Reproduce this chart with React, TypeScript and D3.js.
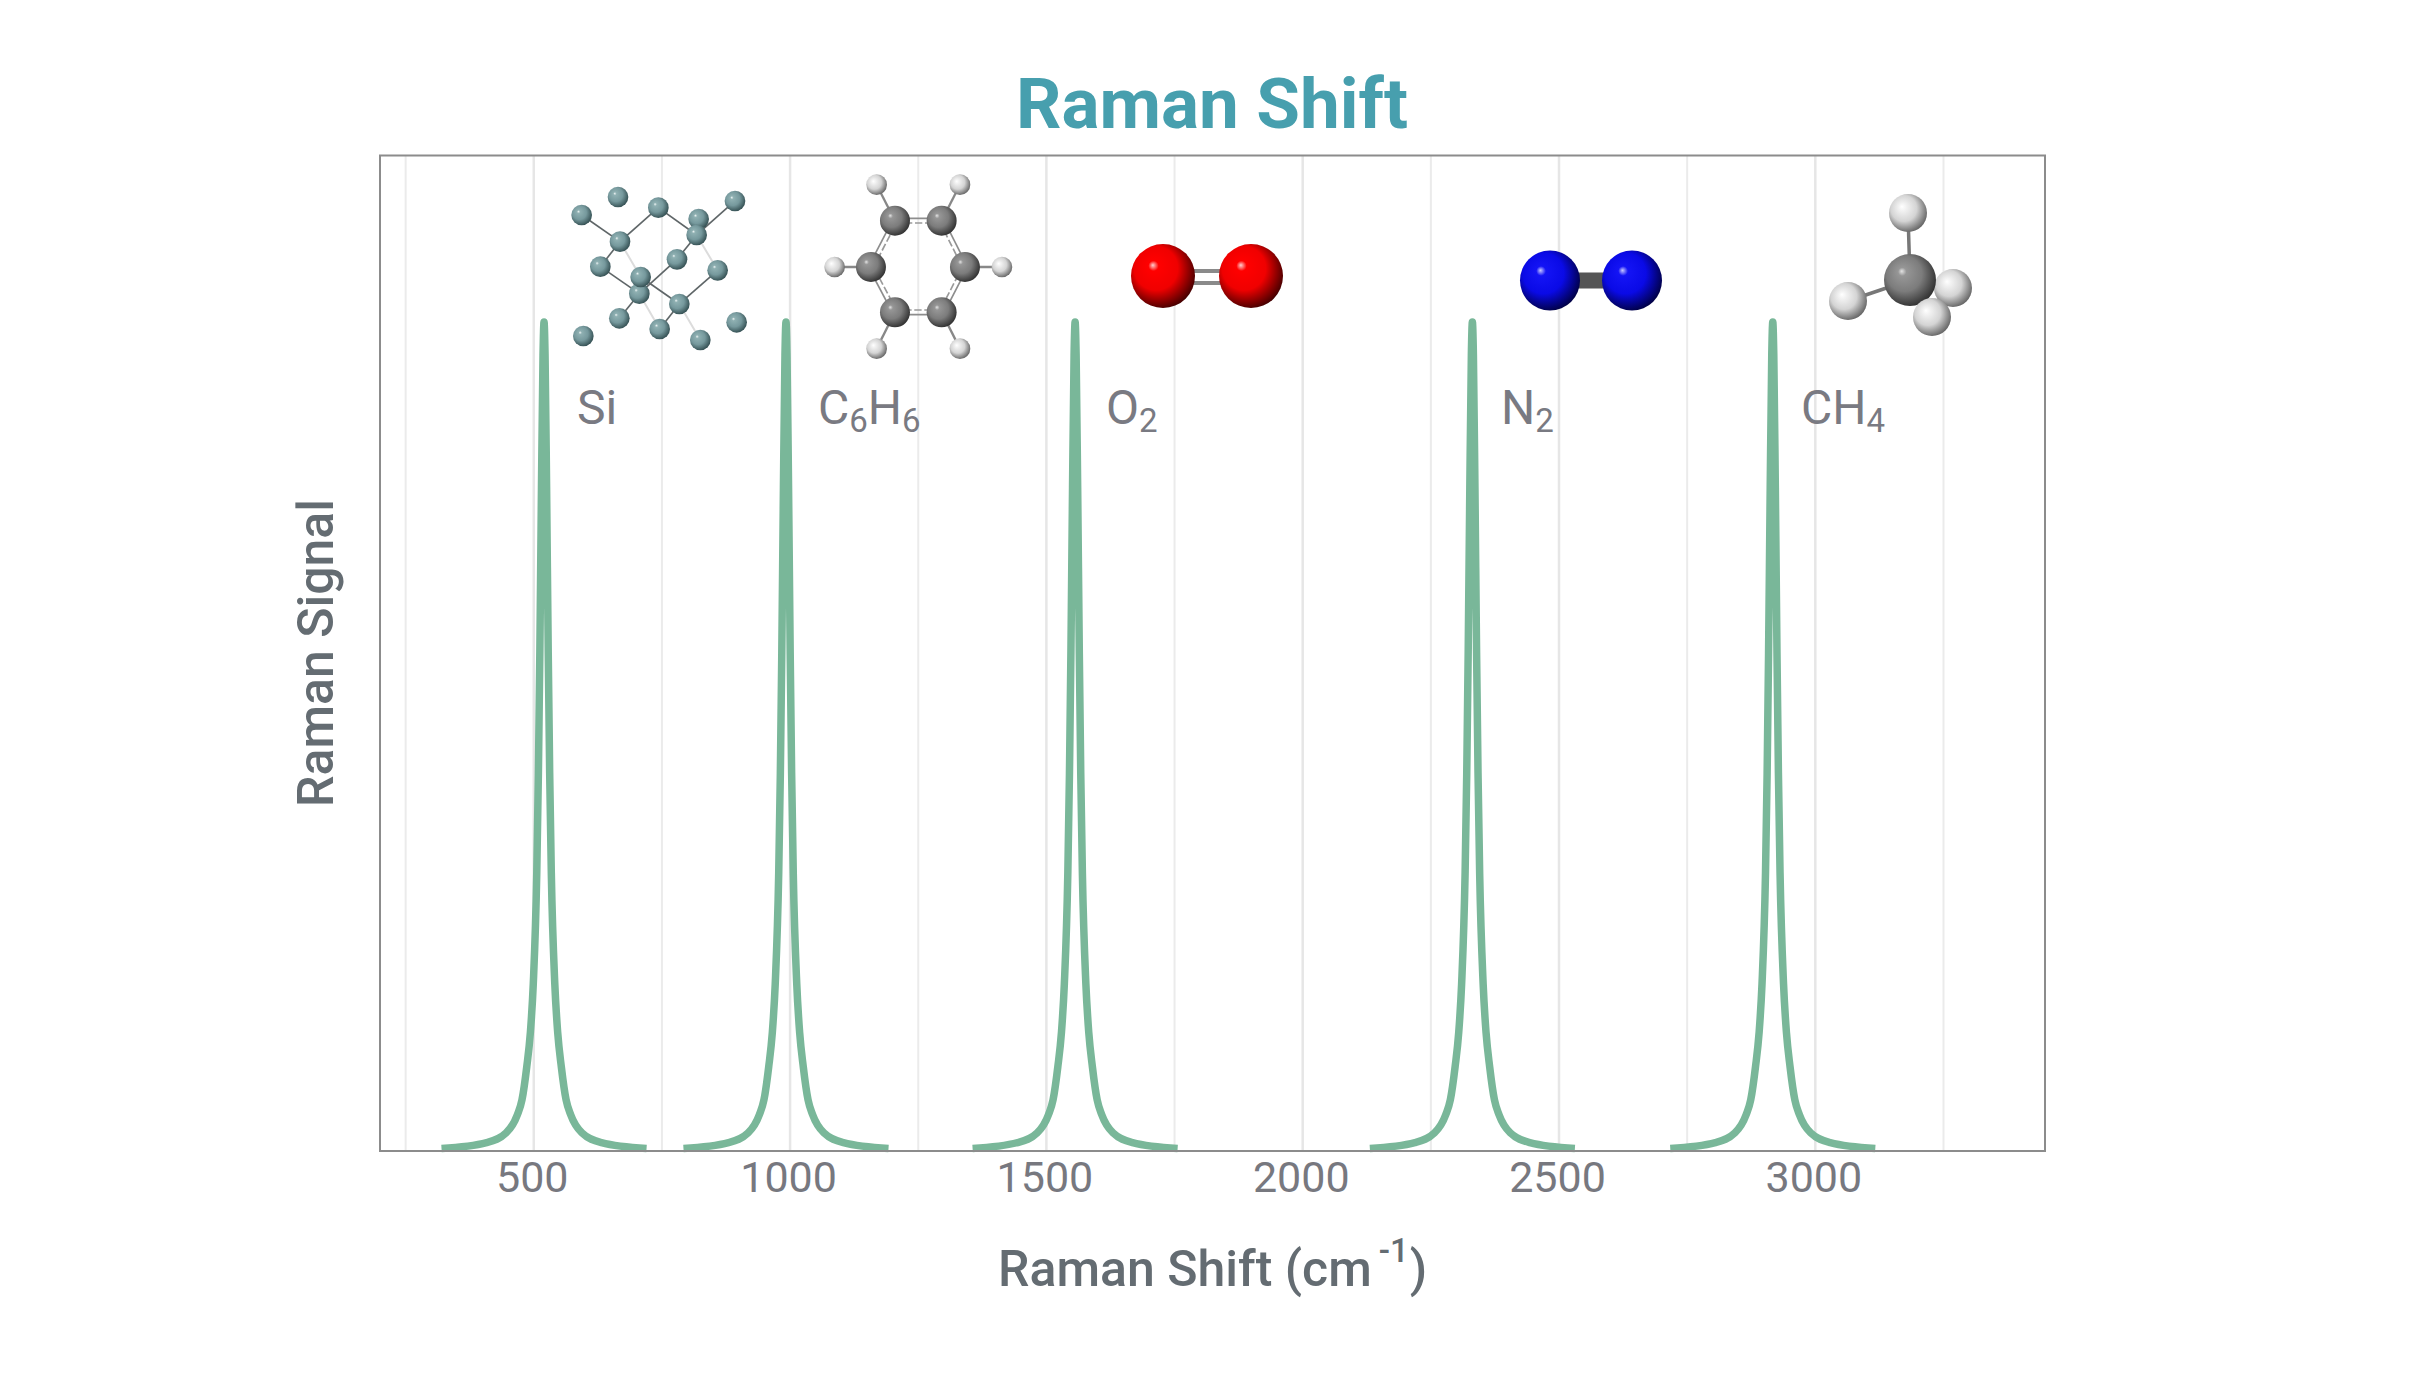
import { axisBottom, curveMonotoneX, line, scaleLinear, select } from "d3";
import { useEffect, useRef } from "react";

const WIDTH = 2412;
const HEIGHT = 1389;

const peakCenters = [520, 992, 1556, 2331, 2917];
const peakOffsets = [-200, -112, -74, -52, -43, -33.7, -26.7, -21, -14.2, -11, -8.2, -5, -2, 0, 2, 5, 8.2, 11, 14.2, 21, 26.7, 33.7, 43, 52, 74, 112, 200];
const peakSignal = [0.0012, 0.0084, 0.02, 0.042, 0.06, 0.1, 0.141, 0.2, 0.334, 0.455, 0.6, 0.8, 0.96, 1, 0.96, 0.8, 0.6, 0.455, 0.334, 0.2, 0.141, 0.1, 0.06, 0.042, 0.02, 0.0084, 0.0012];
const gridValues = [250, 500, 750, 1000, 1250, 1500, 1750, 2000, 2250, 2500, 2750, 3000, 3250];
const tickValues = [500, 1000, 1500, 2000, 2500, 3000];

const peakLabels = [
  { x: 577, parts: ["Si"] },
  { x: 818, parts: ["C", "6", "H", "6"] },
  { x: 1106, parts: ["O", "2"] },
  { x: 1501, parts: ["N", "2"] },
  { x: 1801, parts: ["CH", "4"] },
];

// molecule drawings, in zoomed 3x coords
const siAtoms = [[234,141],[125,195],[355,173],[476,207],[585,153],[240,275],[470,255],[181,350],[411,328],[533,361],[298,431],[302,381],[418,462],[238,505],[359,537],[130,558],[590,517],[481,570]];
const siBonds = [[1,5],[5,2],[2,6],[4,6],[5,7],[7,10],[6,8],[8,10],[11,12],[12,9],[10,13],[12,14]];
const siFaintBonds = [[5,11],[6,9],[10,14],[12,17]];
const benzeneCarbons = [[1065,212],[1205,212],[1275,351],[1205,487],[1065,487],[993,351]];
const benzeneHydrogens = [[1010,104],[1260,104],[1386,351],[1260,596],[1010,596],[884,351]];
const methaneCarbon = [1910, 280];
const methaneHydrogens = [[1908,213],[1848,301],[1953,288],[1932,317]];

const sphereColors: Record<string, string[]> = {
  si: ["#eef5f5", "#8fb0b2", "#76999d", "#2f4a4d"],
  c: ["#e4e4e4", "#969696", "#7c7c7c", "#2c2c2c"],
  h: ["#ffffff", "#f4f4f4", "#d4d4d4", "#5e5e5e"],
  o: ["#ffd0d0", "#ff0000", "#f00000", "#3c0000"],
  n: ["#c8c8ff", "#1414f5", "#0a0ae6", "#00003c"],
};

export default function App() {
  const svgRef = useRef<SVGSVGElement>(null);

  useEffect(() => {
    const svgEl = svgRef.current;
    if (svgEl === null) return;
    const svg = select(svgEl);
    svg.selectAll("*").remove();

    const left = 380, right = 2045, top = 155.5, bottom = 1151;
    const x = scaleLinear().domain([200, 3450]).range([left, 2046]);
    const y = scaleLinear().domain([0, 1]).range([1149.5, 322]);
    const font = "Roboto, sans-serif";

    const defs = svg.append("defs");
    Object.entries(sphereColors).forEach(([key, c]) => {
      const g = defs.append("radialGradient")
        .attr("id", `ball-${key}`)
        .attr("cx", 0.43).attr("cy", 0.42).attr("r", 0.62)
        .attr("fx", 0.34).attr("fy", 0.33);
      g.append("stop").attr("offset", 0).attr("stop-color", c[0]);
      g.append("stop").attr("offset", 0.13).attr("stop-color", c[1]);
      g.append("stop").attr("offset", 0.55).attr("stop-color", c[2]);
      g.append("stop").attr("offset", 1).attr("stop-color", c[3]);
    });

    // grid
    svg.append("g").selectAll("line").data(gridValues).join("line")
      .attr("x1", d => x(d)).attr("x2", d => x(d))
      .attr("y1", top).attr("y2", bottom)
      .attr("stroke", d => d % 500 === 0 ? "#e6e6e6" : "#ebebeb")
      .attr("stroke-width", d => d % 500 === 0 ? 2.5 : 2);

    // peaks
    const pts = peakOffsets.map((o, i) => [o, peakSignal[i]]);
    const peakLine = line<number[]>().curve(curveMonotoneX).x(d => d[0]).y(d => y(d[1]));
    svg.append("g").selectAll("path").data(peakCenters).join("path")
      .attr("d", c => peakLine(pts.map(p => [x(c + p[0]), p[1]])))
      .attr("fill", "none")
      .attr("stroke", "#79b799")
      .attr("stroke-width", 7.5)
      .attr("stroke-linejoin", "round");

    // frame
    svg.append("rect")
      .attr("x", left).attr("y", top)
      .attr("width", right - left).attr("height", bottom - top)
      .attr("fill", "none")
      .attr("stroke", "#8c8c8c")
      .attr("stroke-width", 2);

    // x axis
    const axis = svg.append("g")
      .attr("transform", `translate(-2,${bottom})`)
      .call(axisBottom(x).tickValues(tickValues).tickSize(0).tickPadding(10).tickFormat(d => String(d)));
    axis.select(".domain").remove();
    axis.selectAll("text")
      .attr("dy", null)
      .attr("y", 41)
      .style("font-family", font)
      .style("font-size", "43px")
      .attr("fill", "#77787f");

    svg.append("text")
      .attr("x", 1212).attr("y", 128)
      .attr("text-anchor", "middle")
      .style("font-family", font).style("font-size", "71px").style("font-weight", 700)
      .attr("fill", "#479fae")
      .text("Raman Shift");

    const xTitle = svg.append("text")
      .attr("x", 998).attr("y", 1286)
      .style("font-family", font).style("font-size", "50px").style("font-weight", 500)
      .attr("fill", "#646c72");
    xTitle.append("tspan").text("Raman Shift (cm");
    xTitle.append("tspan").attr("dx", 7).attr("dy", -24).style("font-size", "33px").text("-1");
    xTitle.append("tspan").attr("dx", 1).attr("dy", 24).text(")");

    svg.append("text")
      .attr("transform", "translate(333,653) rotate(-90)")
      .attr("text-anchor", "middle")
      .style("font-family", font).style("font-size", "50px").style("font-weight", 500)
      .attr("fill", "#646c72")
      .text("Raman Signal");

    // compound labels
    peakLabels.forEach(l => {
      const t = svg.append("text")
        .attr("x", l.x).attr("y", 424)
        .style("font-family", font).style("font-size", "48px")
        .attr("fill", "#797a82");
      let sub = false;
      l.parts.forEach(p => {
        const isNum = /\d/.test(p);
        t.append("tspan")
          .attr("dy", isNum === sub ? 0 : isNum ? 8 : -8)
          .style("font-size", isNum ? "33px" : "48px")
          .text(p);
        sub = isNum;
      });
    });

    const ball = (g: any, cx: number, cy: number, r: number, key: string) =>
      g.append("circle").attr("cx", cx).attr("cy", cy).attr("r", r).attr("fill", `url(#ball-${key})`);
    const bond = (g: any, a: number[], b: number[], color: string, w: number, dash?: string) =>
      g.append("line")
        .attr("x1", a[0]).attr("y1", a[1]).attr("x2", b[0]).attr("y2", b[1])
        .attr("stroke", color).attr("stroke-width", w).attr("stroke-dasharray", dash ?? null);

    // Si and benzene share one 3x frame
    const zoomed = svg.append("g").attr("transform", "translate(540,150) scale(0.3333)");
    siBonds.forEach(([a, b]) => bond(zoomed, siAtoms[a], siAtoms[b], "#5f6668", 5));
    siFaintBonds.forEach(([a, b]) => bond(zoomed, siAtoms[a], siAtoms[b], "#dcdcdc", 6));
    siAtoms.forEach(a => ball(zoomed, a[0], a[1], 31, "si"));

    benzeneCarbons.forEach((a, i) => {
      const b = benzeneCarbons[(i + 1) % 6];
      const mx = (a[0] + b[0]) / 2, my = (a[1] + b[1]) / 2;
      const cx = 1135, cy = 350;
      const len = Math.hypot(mx - cx, my - cy);
      const nx = (mx - cx) / len, ny = (my - cy) / len;
      bond(zoomed, [a[0] + nx * 7, a[1] + ny * 7], [b[0] + nx * 7, b[1] + ny * 7], "#8d8d8d", 5);
      bond(zoomed, [a[0] - nx * 7, a[1] - ny * 7], [b[0] - nx * 7, b[1] - ny * 7], "#9a9a9a", 5, "22 8");
      bond(zoomed, a, benzeneHydrogens[i], "#888888", 7);
    });
    benzeneHydrogens.forEach(a => ball(zoomed, a[0], a[1], 31, "h"));
    benzeneCarbons.forEach(a => ball(zoomed, a[0], a[1], 45, "c"));

    // O2
    const o2 = svg.append("g");
    bond(o2, [1163, 271], [1251, 271], "#8a8a8a", 4);
    bond(o2, [1163, 283], [1251, 283], "#8a8a8a", 4);
    ball(o2, 1163, 276, 32, "o");
    ball(o2, 1251, 276, 32, "o");

    // N2
    const n2 = svg.append("g");
    bond(n2, [1550, 280.5], [1632, 280.5], "#555555", 16);
    ball(n2, 1550, 280.5, 30, "n");
    ball(n2, 1632, 280.5, 30, "n");

    // CH4
    const ch4 = svg.append("g");
    methaneHydrogens.forEach(h => bond(ch4, methaneCarbon, h, "#777777", 3.5));
    ball(ch4, methaneHydrogens[0][0], methaneHydrogens[0][1], 19, "h");
    ball(ch4, methaneHydrogens[1][0], methaneHydrogens[1][1], 19, "h");
    ball(ch4, methaneHydrogens[2][0], methaneHydrogens[2][1], 19, "h");
    ball(ch4, methaneCarbon[0], methaneCarbon[1], 26, "c");
    ball(ch4, methaneHydrogens[3][0], methaneHydrogens[3][1], 19, "h");
  }, []);

  return (
    <svg
      ref={svgRef}
      width={WIDTH}
      height={HEIGHT}
      style={{ position: "absolute", left: 0, top: 0, background: "#fff" }}
    />
  );
}
